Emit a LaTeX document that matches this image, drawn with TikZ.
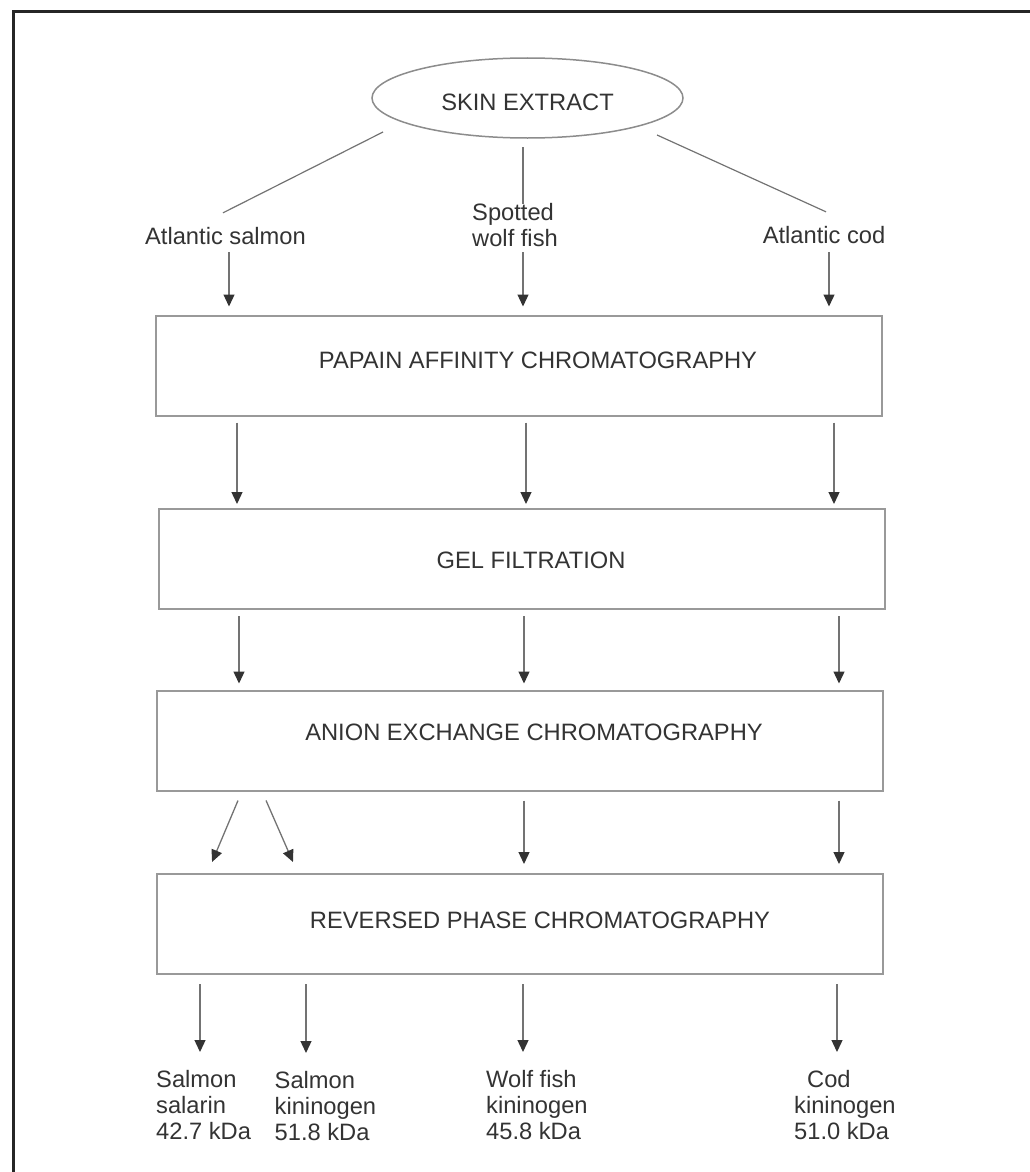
\documentclass[tikz,border=0pt]{standalone}
\usepackage{fontspec}
\setmainfont{Liberation Sans}
\usetikzlibrary{arrows.meta,shapes.geometric}
\tikzset{
  doboz/.style={draw=black!40,line width=2pt,minimum width=726pt,minimum height=100pt,inner sep=0pt},
  felirat/.style={inner sep=0pt,text=black!80,align=left},
  nyil/.style={draw=black!55,line width=1.3pt,-{Triangle[length=12pt,width=11pt,color=black!80]}},
  vonal/.style={draw=black!55,line width=1.2pt},
}

\begin{document}
\begin{tikzpicture}[x=1pt,y=-1pt,font=\fontsize{23.7pt}{26pt}\selectfont]
  \useasboundingbox (0,0) rectangle (1030,1172);
  \draw[line width=2.5pt,black!85] (13.3,1172) -- (13.3,11.3) -- (1030,11.3);

  \node[ellipse,draw=black!45,line width=1.5pt,minimum width=311pt,minimum height=80pt,
    inner sep=0pt,label={[felirat,yshift=-4pt]center:SKIN EXTRACT}] (kivonat) at (527.5,98) {};
  \node[felirat,anchor=base] (lazac) at (225.5,244) {Atlantic salmon};
  \node[felirat,anchor=north west] (farkas) at (472,203) {Spotted\\wolf fish};
  \node[felirat,anchor=base] (tokehal) at (824,243) {Atlantic cod};
  \draw[vonal] ([shift={(-144.5,34)}]kivonat.center) -- ([shift={(-2.5,-13.8)}]lazac.north);
  \draw[vonal] ([shift={(-4.5,49)}]kivonat.center) -- ([shift={(51,1)}]farkas.north west);
  \draw[vonal] ([shift={(129.5,37)}]kivonat.center) -- ([shift={(2,-13.8)}]tokehal.north);

  \node[doboz,label={[felirat,xshift=19pt,yshift=5pt]center:PAPAIN AFFINITY CHROMATOGRAPHY}]
    (papain) at (519,365.5) {};
  \node[doboz,label={[felirat,xshift=9.5pt,yshift=-1pt]center:GEL FILTRATION}]
    (gel) at (521.5,559) {};
  \node[doboz,label={[felirat,xshift=14.5pt,yshift=8.5pt]center:ANION EXCHANGE CHROMATOGRAPHY}]
    (anion) at (519.5,740.5) {};
  \node[doboz,label={[felirat,xshift=20pt,yshift=4pt]center:REVERSED PHASE CHROMATOGRAPHY}]
    (forditott) at (520,924) {};

  \node[felirat,anchor=north west] (salarin) at (156,1070) {Salmon\\salarin\\42.7 kDa};
  \node[felirat,anchor=north west] (lazackin) at (274.5,1071) {Salmon\\kininogen\\51.8 kDa};
  \node[felirat,anchor=north west] (farkaskin) at (486,1070) {Wolf fish\\kininogen\\45.8 kDa};
  \node[felirat,anchor=north west] (tokekin) at (794,1070) {\hspace*{13pt}Cod\\kininogen\\51.0 kDa};

  \foreach \x in {229,523,829}
    \draw[nyil,shorten <=8pt,shorten >=8pt] (\x,0 |- lazac.south) -- (\x,0 |- papain.north);
  \foreach \x in {237,526,834}
    \draw[nyil,shorten <=6pt,shorten >=4pt] (\x,0 |- papain.south) -- (\x,0 |- gel.north);
  \foreach \x in {239,524,839}
    \draw[nyil,shorten <=6pt,shorten >=6pt] (\x,0 |- gel.south) -- (\x,0 |- anion.north);
  \foreach \x in {524,839}
    \draw[nyil,shorten <=9pt,shorten >=9pt] (\x,0 |- anion.south) -- (\x,0 |- forditott.north);
  \draw[nyil,shorten <=9.8pt,shorten >=12pt] (241.8,0 |- anion.south) -- (207.4,0 |- forditott.north);
  \draw[nyil,shorten <=9.8pt,shorten >=12pt] (262.1,0 |- anion.south) -- (297.8,0 |- forditott.north);
  \foreach \x/\n in {200/salarin,306/lazackin,523/farkaskin,837/tokekin}
    \draw[nyil,shorten <=9pt,shorten >=18pt] (\x,0 |- forditott.south) -- (\x,0 |- \n.north);
\end{tikzpicture}
\end{document}
